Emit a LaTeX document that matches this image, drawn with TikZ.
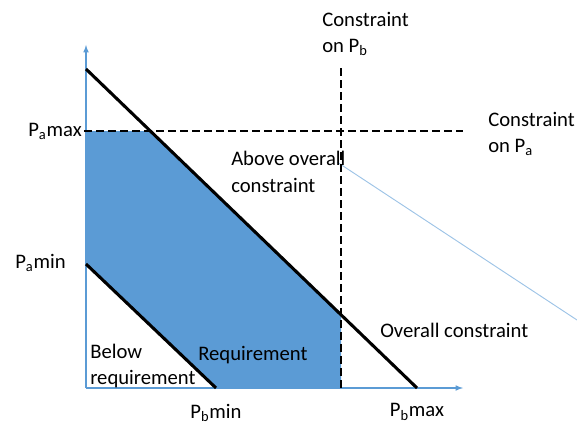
\documentclass[tikz,border=0pt]{standalone}
\usepackage{fontspec}
\setmainfont{Carlito}
\definecolor{areablue}{HTML}{5B9BD5}
\definecolor{lineblue}{HTML}{9DC3E6}

\begin{document}
\begin{tikzpicture}[x=0.75pt,y=-0.75pt,
		lbl/.style={inner sep=0pt,anchor=west,align=left,font=\fontsize{15.5}{19.8}\selectfont},
		bound/.style={line width=2.3pt},
		limit/.style={line width=1.9pt,dash pattern=on 6pt off 3pt},
		axis/.style={areablue,line width=0.9pt,-latex}]

		\useasboundingbox (0,0) rectangle (577,428);

		\coordinate (O) at (86,388);
		\coordinate (ytop) at (86,45);
		\coordinate (xend) at (463,388);
		\coordinate (tot_a) at (86,69);
		\coordinate (tot_b) at (417,388);
		\coordinate (min_a) at (86,264);
		\coordinate (min_b) at (216,388);
		\coordinate (amax_l) at (84,131);
		\coordinate (amax_r) at (463,131);
		\coordinate (amax_x) at (150.3,131);
		\coordinate (bmax_t) at (341,68);
		\coordinate (bmax_b) at (341,388);
		\coordinate (bmax_x) at (341,314.8);
		\coordinate (ax_start) at (86,131);
		\coordinate (aux_a) at (337,162);
		\coordinate (aux_b) at (577,320);

		% feasible region
		\fill[areablue] (ax_start) -- (amax_x) -- (bmax_x) -- (bmax_b) -- (min_b) -- (min_a) -- cycle;

		\draw[axis] (O) -- (ytop);
		\draw[axis] (O) -- (xend);
		\draw[lineblue,line width=0.7pt] (aux_a) -- (aux_b);

		\draw[bound] (tot_a) -- (tot_b);
		\draw[bound] (min_a) -- (min_b);
		\draw[limit] (amax_l) -- (amax_r);
		\draw[limit] (bmax_t) -- (bmax_b);

		\node[lbl] (conb) at (322,34) {Constraint\\on P\textsubscript{b}};
		\node[lbl] (cona) at (488,134) {Constraint\\on P\textsubscript{a}};
		\node[lbl] (above) at (231,172) {Above overall\\constraint};
		\node[lbl] (overall) at (380,330) {Overall constraint};
		\node[lbl] (req) at (198,355) {Requirement};
		\node[lbl] (below) at (90,366) {Below\\requirement};
		\node[lbl,anchor=east] (pamax) at (82,131) {P\textsubscript{a}max};
		\node[lbl] (pamin) at (15,263) {P\textsubscript{a}min};
		\node[lbl,anchor=center] (pbmin) at (216,413) {P\textsubscript{b}min};
		\node[lbl,anchor=center] (pbmax) at (417,412) {P\textsubscript{b}max};

	\end{tikzpicture}
\end{document}
